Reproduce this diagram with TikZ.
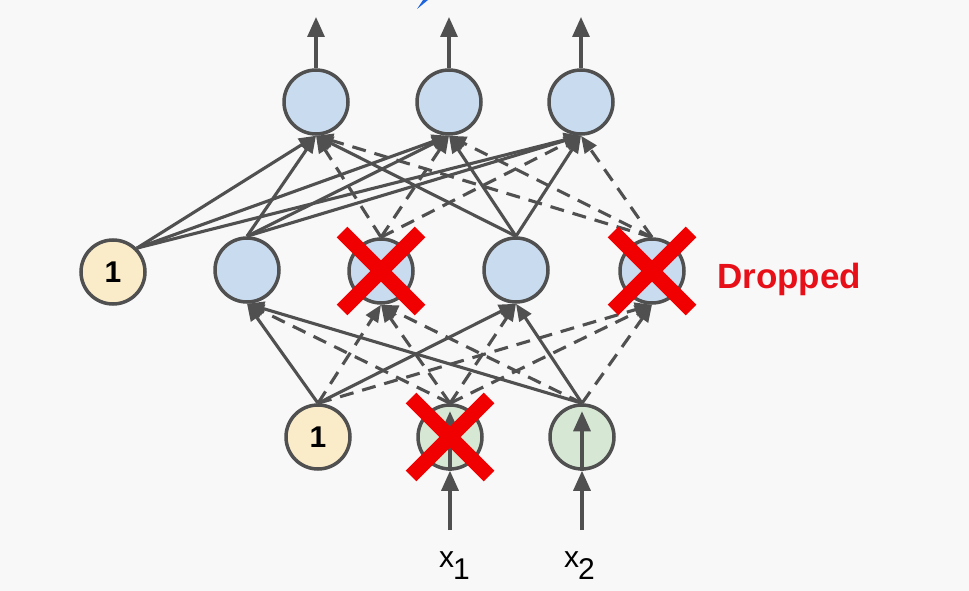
\documentclass[tikz,border=0pt]{standalone}
\usepackage{fontspec}
\setmainfont{Liberation Sans}
\usetikzlibrary{arrows.meta}
\definecolor{bg}{RGB}{248,248,248}
\definecolor{edgec}{RGB}{80,80,80}
\definecolor{blueF}{RGB}{201,219,238}
\definecolor{beigeF}{RGB}{251,236,201}
\definecolor{greenF}{RGB}{214,232,212}
\definecolor{xred}{RGB}{240,0,0}
\definecolor{dropred}{RGB}{232,16,24}
\definecolor{markblue}{RGB}{30,100,220}
\begin{document}
\begin{tikzpicture}[x=1pt,y=-1pt,
  neuron/.style={circle,draw=edgec,line width=3.5pt,minimum size=64pt,inner sep=0pt},
  hid/.style={neuron,fill=blueF},
  bias/.style={neuron,fill=beigeF,font=\fontsize{30}{30}\selectfont\bfseries},
  inp/.style={neuron,fill=greenF},
  conn/.style={draw=edgec,line width=3.1pt,-{Triangle[length=17pt,width=14pt]}},
  dconn/.style={conn,dash pattern=on 14pt off 9pt},
  vert/.style={draw=edgec,line width=3.2pt,-{Triangle[length=20pt,width=17pt]}},
  cross/.style={draw=xred,line width=15pt},
  lbl/.style={font=\fontsize{30}{30}\selectfont,anchor=base west,inner sep=0pt}
]
\fill[bg] (0,0) rectangle (969,591);
\useasboundingbox (0,0) rectangle (969,591);
\fill[markblue] (417,9) -- (423,0) -- (428,0) -- cycle;

% output layer
\node[hid] (O1) at (316,102) {};
\node[hid] (O2) at (449,102) {};
\node[hid] (O3) at (581,102) {};
% hidden layer
\node[bias] (B1) at (113,272) {1};
\node[hid] (H1) at (247,270) {};
\node[hid] (H2) at (381,271) {};
\node[hid] (H3) at (516,270) {};
\node[hid] (H4) at (652,271) {};
% input layer
\node[bias] (B0) at (318,437) {1};
\node[inp] (X1) at (450,437) {};
\node[inp] (X2) at (582,437) {};

% outputs
\coordinate (out1) at (316,17);
\coordinate (out2) at (449,17);
\coordinate (out3) at (581,17);
\draw[vert] (O1.north) -- (out1);
\draw[vert] (O2.north) -- (out2);
\draw[vert] (O3.north) -- (out3);

% inputs
\coordinate (in1) at (450,530);
\coordinate (in2) at (582,530);
\draw[vert] (in1) -- (X1.south);
\draw[vert] (in2) -- (X2.south);
\draw[vert] (X1.south) -- ([yshift=-8pt]X1.north);
\draw[vert] (X2.south) -- ([yshift=-8pt]X2.north);

% hidden -> output
\foreach \t in {O1,O2,O3} {
  \draw[dconn] (H2.north) -- (\t.south);
  \draw[dconn] (H4.north) -- (\t.south);
}
\foreach \t in {O1,O2,O3} {
  \draw[conn] (B1.45) -- (\t.south);
  \draw[conn] (H1.north) -- (\t.south);
  \draw[conn] (H3.north) -- (\t.south);
}
% input -> hidden
\foreach \t in {H1,H2,H3,H4} {
  \draw[dconn] (X1.north) -- (\t.south);
}
\foreach \s in {B0,X2} {
  \draw[dconn] (\s.north) -- (H2.south);
  \draw[dconn] (\s.north) -- (H4.south);
  \draw[conn] (\s.north) -- (H1.south);
  \draw[conn] (\s.north) -- (H3.south);
}

% dropped crosses
\foreach \n in {H2,H4,X1} {
  \draw[cross] ([shift={(-39pt,39pt)}]\n.center) -- ([shift={(39pt,-39pt)}]\n.center);
  \draw[cross] ([shift={(-39pt,-39pt)}]\n.center) -- ([shift={(39pt,39pt)}]\n.center);
}

\node[anchor=base west,inner sep=0pt,text=dropred,font=\fontsize{35}{35}\selectfont\bfseries] (drop) at (717,288) {Dropped};
\node[lbl] (lx1) at (439,567) {x\kern-1pt\raisebox{-12pt}{1}};
\node[lbl] (lx2) at (564,567) {x\kern-1pt\raisebox{-12pt}{2}};
\end{tikzpicture}
\end{document}
